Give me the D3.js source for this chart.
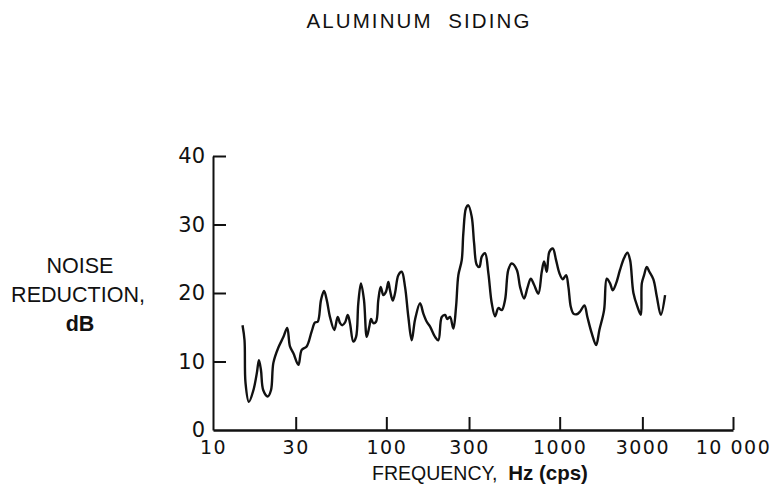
<!DOCTYPE html>
<html>
<head>
<meta charset="utf-8">
<script src="https://cdn.jsdelivr.net/npm/d3@7"></script>
<style>
  body { margin: 0; background: #fff; }
  svg { display: block; }
  .ttl { font-family: "Liberation Sans", Arial, sans-serif; }
  .num { font-family: "DejaVu Sans", sans-serif; }
</style>
</head>
<body>
<svg id="chart" width="776" height="490"></svg>
<script>
// frequency (Hz)
var freq = [14.8, 15.2, 15.4, 16.1, 17.1, 17.9, 18.4, 18.9, 19.5, 20.7,
  21.6, 22.3, 23.8, 25.5, 26.8, 27.8, 29.1, 31.1, 32.5, 34.7,
  37.1, 38.8, 40.2, 42.0, 43.7, 45.3, 47.3, 50.1, 52.4, 54.1,
  55.7, 57.8, 59.9, 61.7, 64.5, 66.9, 68.9, 71.4, 74.3, 77.1,
  79.8, 81.6, 84.1, 87.2, 89.9, 92.8, 96.1, 99.6, 102.7, 105.0,
  108.9, 112.3, 117.3, 122.7, 128.2, 134.0, 140.1, 146.4, 156.5, 163.5,
  171.1, 178.8, 191.0, 199.6, 208.8, 218.2, 224.9, 233.1, 243.6, 252.5,
  260.3, 272.3, 278.1, 288.3, 297.3, 311.1, 320.8, 332.5, 344.2, 355.3,
  371.2, 387.8, 405.7, 424.0, 443.0, 463.5, 484.2, 505.8, 529.2, 565.5,
  590.8, 623.1, 651.0, 681.1, 711.7, 753.5, 788.3, 812.8, 842.5, 872.1,
  912.7, 953.3, 996.1, 1042, 1089, 1123, 1159, 1200, 1255, 1312,
  1389, 1445, 1532, 1623, 1695, 1804, 1870, 1954, 2025, 2116,
  2231, 2353, 2459, 2549, 2664, 2809, 2938, 2978, 3069, 3181,
  3293, 3473, 3634, 3832, 4057];

// noise reduction (dB)
var noiseDb = [15.3, 13.1, 6.9, 4.1, 5.8, 8.3, 10.2, 8.8, 5.8, 4.9,
  5.8, 9.8, 12.0, 13.6, 14.9, 12.2, 11.2, 9.5, 11.7, 12.2,
  14.4, 15.7, 15.8, 19.0, 20.3, 19.0, 16.5, 14.6, 16.5, 15.6,
  15.3, 15.7, 16.8, 15.6, 12.9, 13.6, 18.5, 21.4, 19.0, 13.6,
  15.1, 16.2, 15.6, 15.8, 19.0, 20.9, 19.7, 20.2, 21.6, 20.4,
  18.9, 20.0, 22.6, 23.1, 20.9, 16.5, 13.1, 16.1, 18.5, 17.0,
  15.8, 15.1, 13.6, 13.1, 16.5, 16.8, 16.2, 16.5, 14.8, 18.0,
  22.6, 24.8, 28.7, 32.4, 32.8, 31.1, 27.3, 24.1, 23.8, 25.3,
  25.8, 22.9, 18.5, 16.6, 17.8, 17.5, 19.0, 23.4, 24.3, 23.4,
  20.9, 19.2, 20.7, 22.1, 21.2, 19.9, 23.1, 24.6, 23.1, 26.0,
  26.5, 24.8, 22.9, 22.0, 22.6, 20.9, 18.0, 17.0, 16.9, 17.3,
  18.2, 16.5, 14.1, 12.4, 14.6, 17.5, 22.1, 21.4, 20.4, 21.4,
  23.4, 25.1, 25.9, 24.8, 20.0, 18.0, 16.8, 21.4, 22.6, 23.8,
  23.1, 22.0, 19.5, 16.8, 19.7];

var xTicks = [10, 30, 100, 300, 1000, 3000, 10000];
var xTickLabels = ["10", "30", "100", "300", "1000", "3000", "10 000"];
var yTicks = [0, 10, 20, 30, 40];

var svg = d3.select("#chart");

var x = d3.scaleLog().domain([10, 10000]).range([213, 733]);
var y = d3.scaleLinear().domain([0, 40]).range([430, 156]);

// title
svg.append("text").attr("class", "ttl")
  .attr("x", 419).attr("y", 28)
  .attr("text-anchor", "middle")
  .attr("font-size", 20.5).attr("letter-spacing", 2.1)
  .attr("fill", "#111")
  .text("ALUMINUM  SIDING").style("white-space", "pre");

// axes
var yAxis = d3.axisLeft(y).tickValues(yTicks)
  .tickSizeInner(-13).tickSizeOuter(0).tickPadding(8)
  .tickFormat(d3.format("d"));
var gy = svg.append("g").attr("transform", "translate(213,0)").call(yAxis);

var xAxis = d3.axisBottom(x).tickValues(xTicks)
  .tickSizeInner(-13).tickSizeOuter(0).tickPadding(11)
  .tickFormat(function(d, i) { return xTickLabels[i]; });
var gx = svg.append("g").attr("transform", "translate(0,430)").call(xAxis);

gy.select(".domain").attr("stroke", "#111").attr("stroke-width", 2);
gx.select(".domain").attr("stroke", "#111").attr("stroke-width", 2.5);
svg.selectAll(".tick line").attr("stroke", "#111").attr("stroke-width", 2);
svg.selectAll(".tick text").attr("class", "num")
  .attr("fill", "#111").attr("font-size", 21);
gx.selectAll(".tick text").attr("font-size", 19).attr("letter-spacing", 1.5);
gx.selectAll(".tick").filter(function(d) { return d === 10; }).select("line").remove();
gy.selectAll(".tick").filter(function(d) { return d === 0; }).select("line").remove();

// y label
var ylab = svg.append("text").attr("class", "ttl")
  .attr("text-anchor", "middle").attr("font-size", 21.5).attr("fill", "#111");
ylab.append("tspan").attr("x", 80).attr("y", 273).text("NOISE");
ylab.append("tspan").attr("x", 78).attr("y", 302).text("REDUCTION,");
ylab.append("tspan").attr("x", 80).attr("y", 331).attr("font-weight", "bold").text("dB");

// x label
var xlab = svg.append("text").attr("class", "ttl")
  .attr("x", 480).attr("y", 480)
  .attr("text-anchor", "middle").attr("font-size", 19.5).attr("fill", "#111");
xlab.append("tspan").text("FREQUENCY,  ").style("white-space", "pre");
xlab.append("tspan").attr("font-weight", "bold").attr("font-size", 20.5).text("Hz (cps)");

// curve
var line = d3.line()
  .x(function(d, i) { return x(freq[i]); })
  .y(function(d) { return y(d); })
  .curve(d3.curveCatmullRom.alpha(0.5));

svg.append("path")
  .datum(noiseDb)
  .attr("fill", "none")
  .attr("stroke", "#111")
  .attr("stroke-width", 2.4)
  .attr("stroke-linejoin", "round")
  .attr("d", line);
</script>
</body>
</html>
